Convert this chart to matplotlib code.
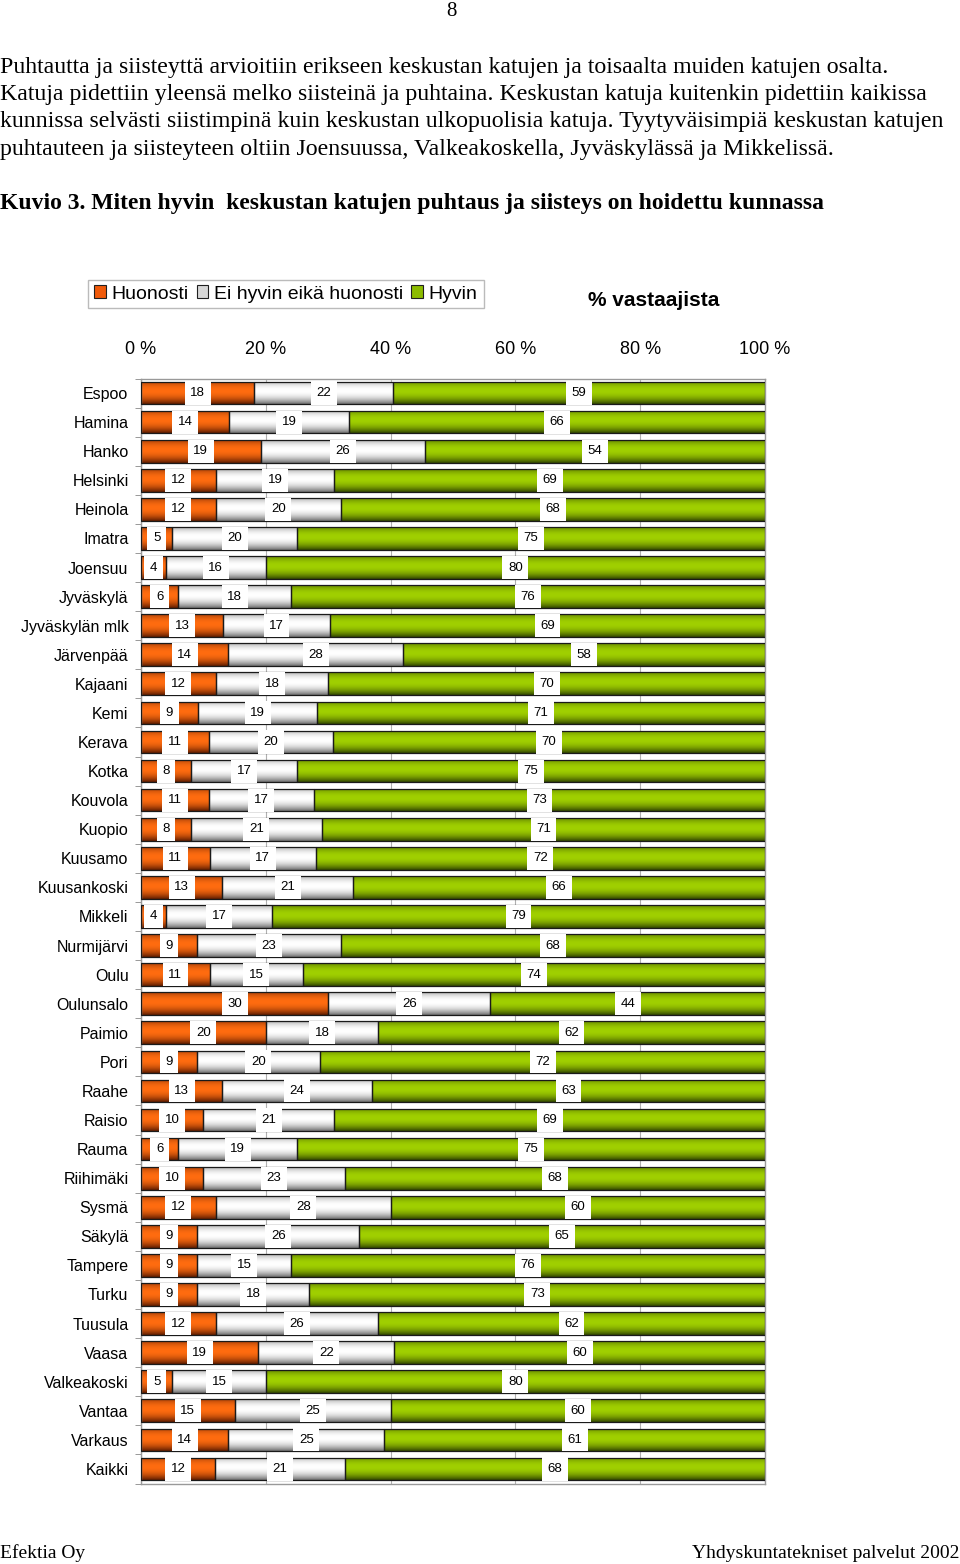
import matplotlib
import matplotlib.pyplot as plt
plt.switch_backend('agg')
from matplotlib.colors import LinearSegmentedColormap
from matplotlib.patches import Patch
import numpy as np

kunnat = ['Espoo', 'Hamina', 'Hanko', 'Helsinki', 'Heinola', 'Imatra', 'Joensuu',
          'Jyväskylä', 'Jyväskylän mlk', 'Järvenpää', 'Kajaani', 'Kemi', 'Kerava',
          'Kotka', 'Kouvola', 'Kuopio', 'Kuusamo', 'Kuusankoski', 'Mikkeli',
          'Nurmijärvi', 'Oulu', 'Oulunsalo', 'Paimio', 'Pori', 'Raahe', 'Raisio',
          'Rauma', 'Riihimäki', 'Sysmä', 'Säkylä', 'Tampere', 'Turku', 'Tuusula',
          'Vaasa', 'Valkeakoski', 'Vantaa', 'Varkaus', 'Kaikki']
huonosti = [18, 14, 19, 12, 12, 5, 4, 6, 13, 14, 12, 9, 11, 8, 11, 8, 11, 13, 4,
            9, 11, 30, 20, 9, 13, 10, 6, 10, 12, 9, 9, 9, 12, 19, 5, 15, 14, 12]
ei_hyvin_eika = [22, 19, 26, 19, 20, 20, 16, 18, 17, 28, 18, 19, 20, 17, 17, 21, 17,
                 21, 17, 23, 15, 26, 18, 20, 24, 21, 19, 23, 28, 26, 15, 18, 26, 22,
                 15, 25, 25, 21]
hyvin = [59, 66, 54, 69, 68, 75, 80, 76, 69, 58, 70, 71, 70, 75, 73, 71, 72, 66, 79,
         68, 74, 44, 62, 72, 63, 69, 75, 68, 60, 65, 76, 73, 62, 60, 80, 60, 61, 68]
sarjat = ['Huonosti', 'Ei hyvin eikä huonosti', 'Hyvin']
xticks = [0, 20, 40, 60, 80, 100]

# colours: (edge dark, middle bright, legend colour)
varit = [('#5e1c00', '#ff6c10', '#f05a0a'),
         ('#6e6e6e', '#ffffff', '#d8d8d8'),
         ('#324600', '#a0d000', '#8cbc00')]

fig = plt.figure(figsize=(9.6, 15.64), dpi=100)
ax = fig.add_axes([141/960, 1 - 1483.5/1564, 624/960, (1483.5 - 378.5)/1564])

vals = np.array([huonosti, ei_hyvin_eika, hyvin], dtype=float)
osuus = vals / vals.sum(axis=0) * 100
y = np.arange(len(kunnat))
h = 0.78

# vertical gradient profile: dark edges, bright upper middle
t = np.linspace(0, 1, 64)
prof = np.clip(1 - np.abs((t - 0.42) / 0.58) ** 2.0, 0, 1).reshape(-1, 1)

left = np.zeros(len(kunnat))
for k in range(3):
    cmap = LinearSegmentedColormap.from_list('g%d' % k, [varit[k][0], varit[k][1]])
    bars = ax.barh(y, osuus[k], left=left, height=h, facecolor='none',
                   edgecolor='#1a1a1a', linewidth=0.9, zorder=3)
    for i, b in enumerate(bars):
        im = ax.imshow(prof, cmap=cmap, vmin=0, vmax=1, aspect='auto',
                       extent=(left[i], left[i] + osuus[k][i], y[i] + h/2, y[i] - h/2),
                       interpolation='bilinear', zorder=2)
        im.set_clip_path(b)
        ax.text(left[i] + osuus[k][i] / 2, y[i], str(int(vals[k][i])), ha='center',
                va='center', fontsize=9.5, family=['Liberation Sans'], zorder=4,
                bbox=dict(boxstyle='square,pad=0.42', fc='white', ec='none'))
    left = left + osuus[k]

ax.set_xlim(0, 100)
ax.set_ylim(len(kunnat) - 0.5, -0.5)
ax.set_xticks(xticks)
ax.set_xticklabels(['%d %%' % v for v in xticks], fontsize=13, family='Liberation Sans')
ax.xaxis.tick_top()
ax.tick_params(axis='x', length=0, pad=15)
ax.set_yticks(y)
ax.set_yticklabels(kunnat, fontsize=11.5, family='Liberation Sans')
ax.tick_params(axis='y', length=0, pad=9)
ax.set_yticks(np.arange(len(kunnat) + 1) - 0.5, minor=True)
ax.tick_params(axis='y', which='minor', length=4, color='#888888')
ax.grid(axis='x', color='#b0b0b0', linewidth=0.8, zorder=0)
ax.set_axisbelow(True)
for s in ax.spines.values():
    s.set_color('#999999')
    s.set_linewidth(1.0)

handles = [Patch(facecolor=varit[k][2], edgecolor='#202020', linewidth=0.8) for k in range(3)]
fig.legend(handles, sarjat, ncol=3, loc='center', bbox_to_anchor=(286/960, 1 - 294/1564),
           prop={'family': 'Liberation Sans', 'size': 14}, frameon=True, fancybox=False,
           edgecolor='#aaaaaa', handlelength=0.6, handleheight=0.6, handletextpad=0.3,
           columnspacing=0.4, borderpad=0.3, borderaxespad=0)

fig.text(654/960, 1 - 300/1564, '% vastaajista', ha='center', va='center',
         fontsize=15, fontweight='bold', family='Liberation Sans')

# page text
fig.text(451/960, 1 - 11/1564, '8', ha='center', va='center', fontsize=15, family='Liberation Serif')
rivit = ['Puhtautta ja siisteyttä arvioitiin erikseen keskustan katujen ja toisaalta muiden katujen osalta.',
         'Katuja pidettiin yleensä melko siisteinä ja puhtaina. Keskustan katuja kuitenkin pidettiin kaikissa',
         'kunnissa selvästi siistimpinä kuin keskustan ulkopuolisia katuja. Tyytyväisimpiä keskustan katujen',
         'puhtauteen ja siisteyteen oltiin Joensuussa, Valkeakoskella, Jyväskylässä ja Mikkelissä.']
for j, r in enumerate(rivit):
    fig.text(0, 1 - (67 + j * 27.4) / 1564, r, ha='left', va='center', fontsize=17.2,
             family='Liberation Serif')
fig.text(0, 1 - 203/1564, 'Kuvio 3. Miten hyvin  keskustan katujen puhtaus ja siisteys on hoidettu kunnassa',
         ha='left', va='center', fontsize=17, fontweight='bold', family='Liberation Serif')
fig.text(0, 1 - 1553/1564, 'Efektia Oy', ha='left', va='center', fontsize=14, family='Liberation Serif')
fig.text(1, 1 - 1553/1564, 'Yhdyskuntatekniset palvelut 2002', ha='right', va='center',
         fontsize=14, family='Liberation Serif')

plt.savefig('out.png', dpi=100)
plt.close()
